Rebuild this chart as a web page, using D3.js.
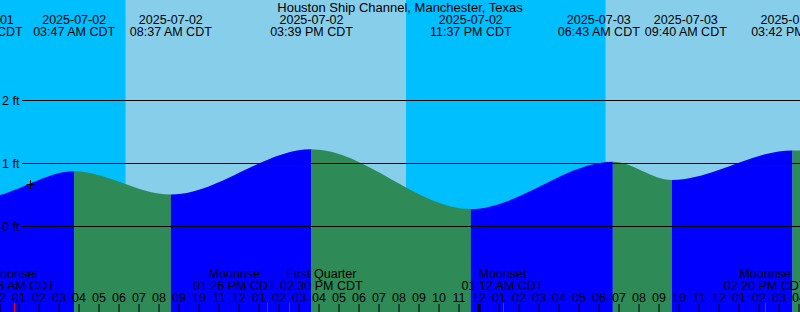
<!DOCTYPE html>
<html>
<head>
<meta charset="utf-8">
<script src="https://cdn.jsdelivr.net/npm/d3@7"></script>
<style>
body{margin:0;background:#fff;}
svg{display:block;font-family:"Liberation Sans",Arial,sans-serif;}
</style>
</head>
<body>
<svg id="chart" width="800" height="312"></svg>
<script>
var title = "Houston Ship Channel, Manchester, Texas";

// tide extremes, local time (CDT), heights in ft
var tideTimes = ["2025-07-01 16:40","2025-07-01 23:10","2025-07-02 03:47","2025-07-02 08:37","2025-07-02 15:39","2025-07-02 23:37","2025-07-03 06:43","2025-07-03 09:40","2025-07-03 15:42","2025-07-04 00:30"];
var tideHeights = [1.15, 0.45, 0.87, 0.50, 1.22, 0.27, 1.02, 0.73, 1.20, 0.25];

// sunrise / sunset
var sunTimes = ["2025-07-02 06:22","2025-07-02 20:22","2025-07-03 06:22","2025-07-03 20:23"];
var sunKinds = ["rise","set","rise","set"];

// moon events
var moonTimes = ["2025-07-02 00:46","2025-07-02 13:26","2025-07-02 14:30","2025-07-03 01:12","2025-07-03 14:20"];
var moonNames = ["Moonset","Moonrise","First Quarter","Moonset","Moonrise"];

var levelTicks = [0, 1, 2];
var nowTime = "2025-07-02 01:35", nowHeight = 0.67;

var W = 800, H = 312;
var nightColor = "#00bfff", dayColor = "#87ceeb", floodColor = "#0000ff", ebbColor = "#2e8b57";

var parse = d3.timeParse("%Y-%m-%d %H:%M");
var fmtDate = d3.timeFormat("%Y-%m-%d");
var fmtTime = d3.timeFormat("%I:%M %p CDT");

var tStart = new Date(2025, 6, 2, 0, 4, 30), tEnd = new Date(2025, 6, 3, 16, 4, 30);
var x = d3.scaleTime().domain([tStart, tEnd]).range([0, W]);
var y = d3.scaleLinear().domain([0, 1]).range([226, 163]);

var svg = d3.select("#chart");

//sky: day / night bands
var bounds = [tStart].concat(sunTimes.map(parse)).concat([tEnd]);
var bands = [];
for (var i = 0; i < bounds.length - 1; i++) {
	var day = i > 0 && sunKinds[i - 1] == "rise";
	bands.push({t0: bounds[i], t1: bounds[i + 1], day: day});
}
svg.selectAll(".sky").data(bands).enter()
	.append("rect")
	.attr("class", "sky")
	.attr("x", function(d){ return x(d.t0); })
	.attr("y", 0)
	.attr("width", function(d){ return Math.max(0, x(d.t1) - x(d.t0)); })
	.attr("height", H)
	.attr("fill", function(d){ return d.day ? dayColor : nightColor; });

//tide curve, one piece per interval between extremes
var tide = tideTimes.map(function(t, i){ return {t: parse(t), h: tideHeights[i]}; });
var area = d3.area()
	.x(function(d){ return x(d.t); })
	.y0(H)
	.y1(function(d){ return y(d.h); })
	.curve(d3.curveMonotoneX);

var defs = svg.append("defs");
for (var i = 0; i < tide.length - 1; i++) {
	var x0 = x(tide[i].t), x1 = x(tide[i + 1].t);
	defs.append("clipPath").attr("id", "seg" + i)
		.append("rect")
		.attr("x", x0).attr("y", 0)
		.attr("width", x1 - x0).attr("height", H);
	svg.append("path")
		.datum(tide)
		.attr("d", area)
		.attr("clip-path", "url(#seg" + i + ")")
		.attr("fill", tide[i + 1].h > tide[i].h ? floodColor : ebbColor);
}

//level lines
var levels = svg.selectAll(".level").data(levelTicks).enter().append("g").attr("class", "level");
levels.append("line")
	.attr("x1", 22).attr("x2", W)
	.attr("y1", function(d){ return Math.round(y(d)) + 0.5; })
	.attr("y2", function(d){ return Math.round(y(d)) + 0.5; })
	.attr("stroke", "#000");
levels.append("text")
	.attr("x", 2)
	.attr("y", function(d){ return y(d) + 4.5; })
	.attr("font-size", 12.5)
	.text(function(d){ return d + " ft"; });

//now mark
var nx = Math.round(x(parse(nowTime))) + 0.5, ny = Math.round(y(nowHeight)) + 0.5;
svg.append("path")
	.attr("d", "M" + (nx - 4) + "," + ny + "h8M" + nx + "," + (ny - 4.5) + "v9")
	.attr("stroke", "#000")
	.attr("fill", "none");

//push overlapping labels apart
function spread(items, gap){
	items.sort(function(a, b){ return a.x - b.x; });
	for (var k = 0; k < 20; k++) {
		for (var i = 0; i < items.length - 1; i++) {
			var d = items[i + 1].x - items[i].x;
			if (d < gap) {
				var s = (gap - d) / 2;
				items[i].x -= s;
				items[i + 1].x += s;
			}
		}
	}
	return items;
}

//title + tide labels
svg.append("text")
	.attr("x", W / 2).attr("y", 12)
	.attr("text-anchor", "middle")
	.attr("font-size", 13)
	.text(title);

var tideLabels = spread(tide.map(function(d){ return {x: x(d.t), t: d.t}; }), 87);
var tl = svg.selectAll(".tidelabel").data(tideLabels).enter()
	.append("text")
	.attr("class", "tidelabel")
	.attr("text-anchor", "middle")
	.attr("font-size", 12.5);
tl.append("tspan").attr("x", function(d){ return d.x; }).attr("y", 24).text(function(d){ return fmtDate(d.t); });
tl.append("tspan").attr("x", function(d){ return d.x; }).attr("y", 36).text(function(d){ return fmtTime(d.t); });

//moon labels
var moon = moonTimes.map(function(t, i){ return {t: parse(t), name: moonNames[i]}; });
var moonLabels = spread(moon.map(function(d){ return {x: x(d.t), t: d.t, name: d.name}; }), 87);
var ml = svg.selectAll(".moonlabel").data(moonLabels).enter()
	.append("text")
	.attr("class", "moonlabel")
	.attr("text-anchor", "middle")
	.attr("font-size", 12.5);
ml.append("tspan").attr("x", function(d){ return d.x; }).attr("y", 278).text(function(d){ return d.name; });
ml.append("tspan").attr("x", function(d){ return d.x; }).attr("y", 290).text(function(d){ return fmtTime(d.t); });

//hour axis
var hours = d3.timeHour.range(new Date(2025, 6, 2, 0), new Date(2025, 6, 3, 17));
var axis = d3.axisTop(x)
	.tickValues(hours)
	.tickFormat(d3.timeFormat("%I"))
	.tickSize(8)
	.tickPadding(2.5);
var ag = svg.append("g").attr("transform", "translate(0," + H + ")").call(axis);
ag.select(".domain").remove();
ag.attr("font-family", null).attr("font-size", 12.5);
ag.selectAll("text").attr("fill", "#000");
ag.selectAll(".tick line").attr("stroke", "#000")
	.attr("stroke-width", function(d){ return d.getHours() == 0 ? 3 : 1; });

//moon event ticks
svg.selectAll(".moontick").data(moon).enter()
	.append("line")
	.attr("class", "moontick")
	.attr("x1", function(d){ return Math.round(x(d.t)) + 0.5; })
	.attr("x2", function(d){ return Math.round(x(d.t)) + 0.5; })
	.attr("y1", H - 9).attr("y2", H)
	.attr("stroke", "#ff0000");
</script>
</body>
</html>
